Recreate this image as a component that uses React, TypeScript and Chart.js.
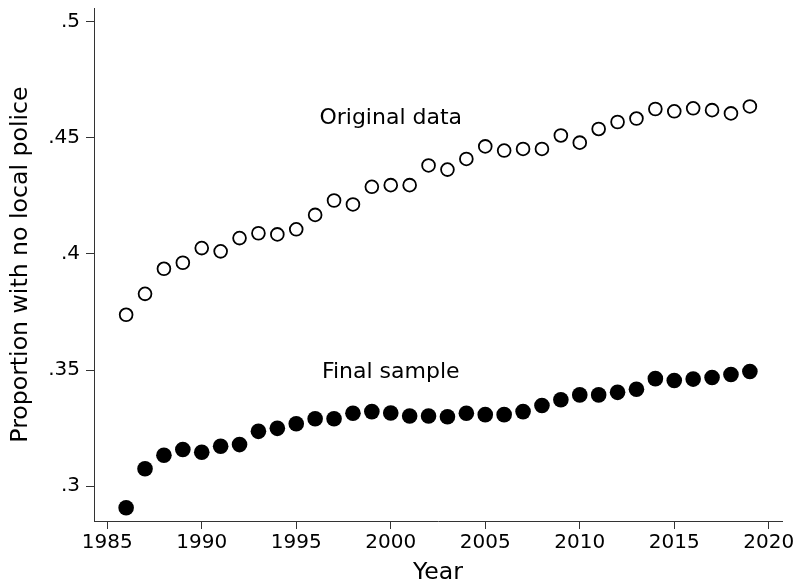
import React, { useEffect, useRef } from "react";
import { Chart, registerables } from "chart.js";

Chart.register(...registerables);

const years = [1986, 1987, 1988, 1989, 1990, 1991, 1992, 1993, 1994, 1995, 1996, 1997, 1998, 1999, 2000, 2001, 2002, 2003, 2004, 2005, 2006, 2007, 2008, 2009, 2010, 2011, 2012, 2013, 2014, 2015, 2016, 2017, 2018, 2019];
const originalData = [0.3738, 0.3828, 0.3936, 0.3962, 0.4025, 0.4011, 0.4068, 0.4089, 0.4084, 0.4106, 0.4168, 0.4230, 0.4213, 0.4289, 0.4296, 0.4296, 0.4381, 0.4363, 0.4409, 0.4463, 0.4445, 0.4452, 0.4452, 0.4510, 0.4479, 0.4538, 0.4568, 0.4583, 0.4624, 0.4614, 0.4627, 0.4619, 0.4605, 0.4635];
const finalSample = [0.2907, 0.3075, 0.3133, 0.3158, 0.3146, 0.3172, 0.3179, 0.3236, 0.3249, 0.3269, 0.3290, 0.3290, 0.3314, 0.3321, 0.3315, 0.3302, 0.3302, 0.3299, 0.3314, 0.3308, 0.3308, 0.3321, 0.3347, 0.3372, 0.3393, 0.3393, 0.3404, 0.3417, 0.3463, 0.3455, 0.3461, 0.3468, 0.3481, 0.3494];
const xTicks = [1985, 1990, 1995, 2000, 2005, 2010, 2015, 2020];
const yTicks = [0.3, 0.35, 0.4, 0.45, 0.5];
const labelTexts = ["Original data", "Final sample"];
const labelX = [2000, 2000];
const labelY = [0.4594, 0.35];

const FONT = "'DejaVu Sans', sans-serif";

const textLabels = {
  id: "textLabels",
  afterDatasetsDraw(chart: any) {
    const { ctx, scales } = chart;
    const size = 22;
    ctx.save();
    ctx.font = `${size}px ${FONT}`;
    ctx.fillStyle = "#000";
    ctx.textAlign = "center";
    ctx.textBaseline = "alphabetic";
    labelTexts.forEach((t, i) => {
      const px = scales.x.getPixelForValue(labelX[i]);
      const py = scales.y.getPixelForValue(labelY[i]);
      ctx.fillText(t, px, py + size * 0.729 / 2);
    });
    ctx.restore();
  },
};

export default function App() {
  const ref = useRef<HTMLCanvasElement>(null);
  useEffect(() => {
    if (!ref.current) return;
    const chart = new Chart(ref.current, {
      type: "scatter",
      data: {
        datasets: [
          {
            label: "Original data",
            data: years.map((y, i) => ({ x: y, y: originalData[i] })),
            pointRadius: 6.4,
            pointBorderWidth: 1.8,
            pointBackgroundColor: "#fff",
            pointBorderColor: "#000",
            showLine: false,
          },
          {
            label: "Final sample",
            data: years.map((y, i) => ({ x: y, y: finalSample[i] })),
            pointRadius: 7.8,
            pointBorderWidth: 0,
            pointBackgroundColor: "#000",
            pointBorderColor: "#000",
            showLine: false,
          },
        ],
      },
      options: {
        responsive: false,
        animation: false,
        devicePixelRatio: 1,
        layout: { padding: { top: 8, right: 15, left: 0, bottom: 0 } },
        plugins: { legend: { display: false }, tooltip: { enabled: false } },
        scales: {
          x: {
            type: "linear",
            min: 1984.3,
            max: 2020.7,
            afterBuildTicks: (s: any) => {
              s.ticks = xTicks.map((v) => ({ value: v }));
            },
            afterFit: (s: any) => {
              s.height = 62;
              s.paddingLeft = 0;
              s.paddingRight = 0;
            },
            ticks: {
              color: "#000",
              font: { family: FONT, size: 20 },
              padding: 2,
              maxRotation: 0,
              autoSkip: false,
              callback: (v: any) => String(v),
            },
            grid: { drawOnChartArea: false, drawTicks: true, tickLength: 8, color: "#333", lineWidth: 1 },
            border: { display: true, color: "#333", width: 1 },
            title: {
              display: true,
              text: "Year",
              color: "#000",
              font: { family: FONT, size: 23.6 },
              padding: { top: 0, bottom: -4 },
            },
          },
          y: {
            type: "linear",
            min: 0.285,
            max: 0.5058,
            afterBuildTicks: (s: any) => {
              s.ticks = yTicks.map((v) => ({ value: v }));
            },
            afterFit: (s: any) => {
              s.width = 94;
              s.paddingTop = 0;
              s.paddingBottom = 0;
            },
            ticks: {
              color: "#000",
              font: { family: FONT, size: 20 },
              padding: 6,
              autoSkip: false,
              callback: (v: any) => String(Number(v).toFixed(2)).replace(/0$/, "").replace(/^0/, ""),
            },
            grid: { drawOnChartArea: false, drawTicks: true, tickLength: 8, color: "#333", lineWidth: 1 },
            border: { display: true, color: "#333", width: 1 },
            title: {
              display: true,
              text: "Proportion with no local police",
              color: "#000",
              font: { family: FONT, size: 23.6 },
              padding: { top: 7, bottom: 0 },
            },
          },
        },
      },
      plugins: [textLabels],
    });
    return () => chart.destroy();
  }, []);
  return (
    <div style={{ position: "fixed", left: 0, top: 0, width: 797, height: 583, background: "#fff" }}>
      <canvas ref={ref} width={797} height={583} style={{ display: "block" }} />
    </div>
  );
}
